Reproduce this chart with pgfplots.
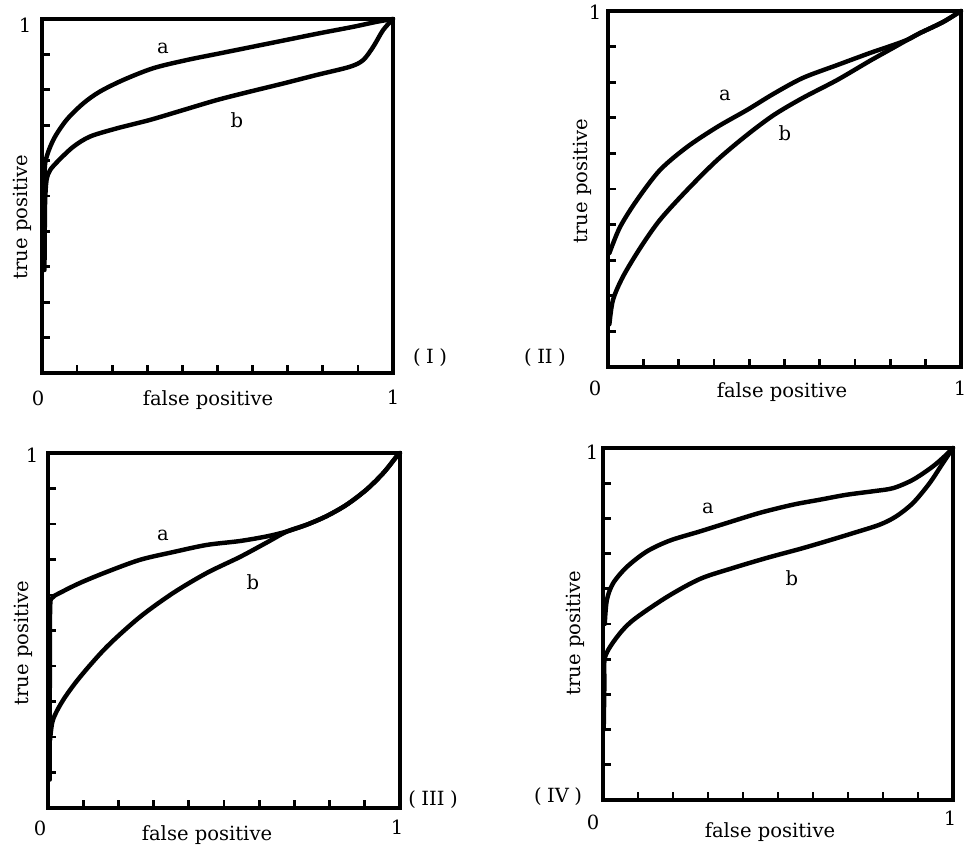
\documentclass[border=0pt]{standalone}
\usepackage{fontspec}
\setmainfont{DejaVu Serif}
\usepackage{pgfplots}
\pgfplotsset{compat=1.18}

\pgfplotsset{
  roc/.style={
    scale only axis,
    xmin=0, xmax=1, ymin=0, ymax=1,
    xtick={0.1,0.2,...,0.9}, ytick={0.1,0.2,...,0.9},
    xticklabels={}, yticklabels={},
    tick pos=left, tick align=inside,
    major tick length=3.6pt,
    every tick/.style={black, line width=1.2pt},
    axis line style={line width=1.5pt},
    clip=false,
  },
  curve/.style={black, line width=2pt, smooth, tension=0.5, line join=round, line cap=round},
}

\begin{document}
\begin{tikzpicture}
\path[use as bounding box] (0,0) rectangle (434.7pt,-382.05pt);

% (I)
\begin{axis}[roc, at={(18.9pt,-167.85pt)}, anchor=south west, width=157.95pt, height=159.3pt]
\addplot[curve] coordinates {(0.008,0.50)(0.009,0.592)(0.032,0.658)(0.070,0.715)(0.118,0.762)(0.165,0.795)(0.232,0.828)(0.317,0.861)(0.412,0.884)(0.507,0.903)(0.602,0.922)(0.697,0.941)(0.792,0.960)(0.887,0.978)(0.953,0.992)(1,1)};
\addplot[curve] coordinates {(0.007,0.291)(0.008,0.42)(0.009,0.489)(0.013,0.545)(0.023,0.573)(0.047,0.600)(0.089,0.639)(0.137,0.668)(0.213,0.691)(0.308,0.715)(0.403,0.743)(0.498,0.771)(0.593,0.795)(0.688,0.818)(0.783,0.842)(0.877,0.865)(0.915,0.884)(0.944,0.922)(0.972,0.969)(1,1)};
\end{axis}

% (II)
\begin{axis}[roc, at={(273.6pt,-165.15pt)}, anchor=south west, width=158.85pt, height=160.2pt]
\addplot[curve] coordinates {(0.004,0.320)(0.034,0.393)(0.082,0.469)(0.147,0.553)(0.224,0.618)(0.309,0.674)(0.394,0.722)(0.470,0.768)(0.552,0.812)(0.649,0.848)(0.742,0.882)(0.807,0.904)(0.850,0.920)(0.884,0.938)(0.949,0.969)(1,1)};
\addplot[curve] coordinates {(0.004,0.120)(0.014,0.188)(0.042,0.253)(0.091,0.334)(0.147,0.413)(0.224,0.497)(0.309,0.581)(0.394,0.652)(0.470,0.708)(0.552,0.756)(0.649,0.806)(0.742,0.860)(0.807,0.896)(0.850,0.920)(0.884,0.938)(0.949,0.969)(1,1)};
\end{axis}

% (III)
\begin{axis}[roc, at={(21.6pt,-363.6pt)}, anchor=south west, width=158.4pt, height=159.75pt]
\addplot[curve] coordinates {(0.005,0.080)(0.005,0.30)(0.006,0.560)(0.012,0.592)(0.034,0.606)(0.091,0.634)(0.167,0.665)(0.261,0.699)(0.356,0.721)(0.451,0.741)(0.545,0.752)(0.621,0.765)(0.679,0.779)(0.735,0.798)(0.791,0.822)(0.848,0.854)(0.905,0.897)(0.953,0.944)(0.991,0.991)(1,1)};
\addplot[curve] coordinates {(0.006,0.192)(0.014,0.248)(0.043,0.304)(0.091,0.369)(0.167,0.454)(0.261,0.538)(0.356,0.606)(0.451,0.662)(0.545,0.707)(0.620,0.747)(0.679,0.779)(0.735,0.798)(0.791,0.822)(0.848,0.854)(0.905,0.897)(0.953,0.944)(0.991,0.991)(1,1)};
\end{axis}

% (IV)
\begin{axis}[roc, at={(271.35pt,-360pt)}, anchor=south west, width=157.5pt, height=158.4pt]
\addplot[curve] coordinates {(0.005,0.500)(0.011,0.568)(0.029,0.616)(0.068,0.662)(0.125,0.706)(0.191,0.737)(0.277,0.763)(0.354,0.787)(0.449,0.816)(0.543,0.839)(0.619,0.853)(0.695,0.867)(0.771,0.877)(0.829,0.886)(0.886,0.910)(0.943,0.948)(0.981,0.981)(1,1)};
\addplot[curve] coordinates {(0.002,0.200)(0.004,0.330)(0.006,0.406)(0.040,0.463)(0.086,0.511)(0.183,0.577)(0.277,0.628)(0.371,0.659)(0.469,0.688)(0.562,0.713)(0.638,0.735)(0.714,0.758)(0.790,0.782)(0.838,0.806)(0.886,0.844)(0.933,0.900)(0.971,0.957)(1,1)};
\end{axis}

% text, in pixel units of the reference
\begin{scope}[x=0.45pt, y=-0.45pt, font=\fontsize{8.8}{10.5}\selectfont]
  % (I)
  \node at (25,25) {1};
  \node at (38,398) {0};
  \node at (393,397) {1};
  \node at (208,400) {false positive};
  \node[rotate=90] at (22,217) {true positive};
  \node at (430,358) {(\;I\;)};
  \node at (163,48) {a};
  \node at (237,120) {b};
  % (II)
  \node at (595,12) {1};
  \node at (595,388) {0};
  \node at (960,388) {1};
  \node at (782,392) {false positive};
  \node[rotate=90] at (582,181) {true positive};
  \node at (545,358) {(\;II\;)};
  \node at (725,95) {a};
  \node at (785,133) {b};
  % (III)
  \node at (32,455) {1};
  \node at (40,828) {0};
  \node at (397,827) {1};
  \node at (207,835) {false positive};
  \node[rotate=90] at (23,643) {true positive};
  \node at (433,800) {(\;III\;)};
  \node at (163,535) {a};
  \node at (253,582) {b};
  % (IV)
  \node at (592,452) {1};
  \node at (593,822) {0};
  \node at (950,818) {1};
  \node at (770,832) {false positive};
  \node[rotate=90] at (575,633) {true positive};
  \node at (558,797) {(\;IV\;)};
  \node at (708,508) {a};
  \node at (792,578) {b};
\end{scope}
\end{tikzpicture}
\end{document}
